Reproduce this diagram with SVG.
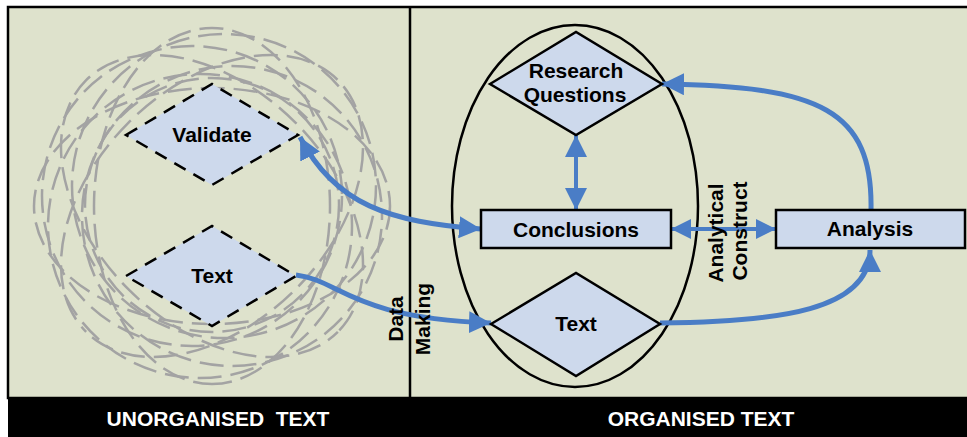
<svg xmlns="http://www.w3.org/2000/svg" width="967" height="437" viewBox="0 0 967 437">
  <style>
    .lbl { font-family: "Liberation Sans", Arial, sans-serif; font-weight: bold; font-size: 21px; fill: #000; text-anchor: middle; }
    .bar { font-family: "Liberation Sans", Arial, sans-serif; font-weight: bold; font-size: 21px; fill: #fff; text-anchor: middle; }
    .node { fill: #CDD9EC; stroke: #000; stroke-width: 2.5; }
    .dashed { stroke-dasharray: 13 9; }
    .flow { fill: none; stroke: #4A7DC6; stroke-width: 5; }
    .thin { stroke-width: 4; }
    .scrib { fill: none; stroke: #A3A3A3; stroke-width: 2.5; stroke-dasharray: 24 9; }
  </style>
  <defs>
    <marker id="head" markerUnits="userSpaceOnUse" markerWidth="22" markerHeight="22" refX="22" refY="11" orient="auto-start-reverse" viewBox="0 0 22 22">
      <path d="M0 0 L22 11 L0 22 Z" fill="#4A7DC6"/>
    </marker>
    <marker id="headS" markerUnits="userSpaceOnUse" markerWidth="20" markerHeight="20" refX="20" refY="10" orient="auto-start-reverse" viewBox="0 0 20 20">
      <path d="M0 0 L20 10 L0 20 Z" fill="#4A7DC6"/>
    </marker>
  </defs>

  <!-- panels -->
  <rect x="8" y="7" width="970" height="391" fill="#DEE2CC" stroke="#000" stroke-width="2.5"/>
  <line x1="410" y1="7" x2="410" y2="398" stroke="#000" stroke-width="2.5"/>
  <rect x="8" y="398" width="970" height="40" fill="#000"/>
  <text class="bar" x="218" y="426" xml:space="preserve">UNORGANISED  TEXT</text>
  <text class="bar" x="701" y="426">ORGANISED TEXT</text>

  <!-- loose dashed rings around the unorganised text -->
  <g id="scribble">
    <ellipse class="scrib" cx="212" cy="206" rx="178" ry="118"/>
    <ellipse class="scrib" cx="212" cy="206" rx="178" ry="118" transform="rotate(45 212 206)" stroke-dashoffset="11"/>
    <ellipse class="scrib" cx="212" cy="206" rx="178" ry="118" transform="rotate(90 212 206)" stroke-dashoffset="5"/>
    <ellipse class="scrib" cx="212" cy="206" rx="178" ry="118" transform="rotate(135 212 206)" stroke-dashoffset="17"/>
    <circle class="scrib" cx="192" cy="196" r="150" stroke-dashoffset="8"/>
    <circle class="scrib" cx="232" cy="216" r="150" stroke-dashoffset="20"/>
    <circle class="scrib" cx="224" cy="186" r="152" stroke-dashoffset="3"/>
    <circle class="scrib" cx="200" cy="226" r="152" stroke-dashoffset="14"/>
    <circle class="scrib" cx="212" cy="205" r="127" stroke-dasharray="46 5"/>
  </g>

  <!-- organised region -->
  <ellipse cx="575" cy="206" rx="123" ry="181" fill="none" stroke="#000" stroke-width="2.5"/>

  <!-- connectors -->
  <g id="connectors">
    <path class="flow" d="M300 137 C335 205 390 222 481 229" marker-start="url(#head)" marker-end="url(#head)"/>
    <path class="flow" d="M296 275 C340 280 350 318 491 323" marker-end="url(#head)"/>
    <path class="flow thin" d="M576 135 L576 210" marker-start="url(#head)" marker-end="url(#head)"/>
    <path class="flow thin" d="M671 229 L776 229" marker-start="url(#headS)" marker-end="url(#headS)"/>
    <path class="flow" d="M660 323 C780 322 870 310 870 250" marker-end="url(#head)"/>
    <path class="flow" d="M871 210 C873 110 820 86 662 84" marker-end="url(#head)"/>
  </g>

  <g id="validate">
    <polygon class="node dashed" points="126,135 212,84 298,135 212,185"/>
    <text class="lbl" x="212" y="142">Validate</text>
  </g>
  <g id="text-raw">
    <polygon class="node dashed" points="126,276 212,226 296,276 212,326"/>
    <text class="lbl" x="212" y="283">Text</text>
  </g>
  <g id="research-questions">
    <polygon class="node" points="490,84 576,32 662,84 576,135"/>
    <text class="lbl" x="576" y="78">Research</text>
    <text class="lbl" x="575" y="102">Questions</text>
  </g>
  <g id="conclusions">
    <rect class="node" x="481" y="210" width="190" height="38"/>
    <text class="lbl" x="576" y="237">Conclusions</text>
  </g>
  <g id="text-organised">
    <polygon class="node" points="491,324 576,273 660,324 576,376"/>
    <text class="lbl" x="576" y="331">Text</text>
  </g>
  <g id="analysis">
    <rect class="node" x="776" y="210" width="189" height="38"/>
    <text class="lbl" x="870" y="236">Analysis</text>
  </g>

  <!-- rotated stage labels -->
  <g id="data-making">
    <text class="lbl" transform="translate(403 319) rotate(-90)">Data</text>
    <text class="lbl" transform="translate(430 319) rotate(-90)">Making</text>
  </g>
  <g id="analytical-construct">
    <text class="lbl" transform="translate(723 233) rotate(-90)">Analytical</text>
    <text class="lbl" transform="translate(747 231) rotate(-90)">Construct</text>
  </g>
</svg>
